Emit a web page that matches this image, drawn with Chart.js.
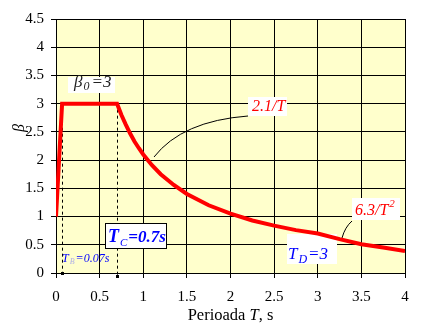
<!DOCTYPE html>
<html>
<head>
<meta charset="utf-8">
<script src="https://cdn.jsdelivr.net/npm/chart.js@4/dist/chart.umd.min.js"></script>
<style>
  html, body { margin: 0; padding: 0; background: #fff; }
  #wrap { width: 436px; height: 335px; }
</style>
</head>
<body>
<div id="wrap"><canvas id="chart"></canvas></div>
<script>
// Periods T (s) and spectral factor beta
const periods = [0, 0.07, 0.7, 0.75, 0.8, 0.85, 0.9, 0.95, 1.0, 1.1, 1.2, 1.35, 1.5, 1.75, 2.0, 2.25, 2.5, 2.75, 3.0, 3.25, 3.5, 3.75, 4.0];
const beta    = [1.0, 3.0, 3.0, 2.8, 2.63, 2.47, 2.33, 2.21, 2.1, 1.91, 1.75, 1.56, 1.4, 1.2, 1.05, 0.93, 0.84, 0.76, 0.7, 0.6, 0.51, 0.45, 0.39];

const xTicks = [0, 0.5, 1, 1.5, 2, 2.5, 3, 3.5, 4];
const yTicks = [0, 0.5, 1, 1.5, 2, 2.5, 3, 3.5, 4, 4.5];

// corner periods marked with dashed lines
const TB = 0.07;
const TC = 0.7;
const betaMax = 3;

const SERIF = '"Liberation Serif", "Times New Roman", serif';
Chart.defaults.font.family = SERIF;
Chart.defaults.color = '#000';

// draw a run of text pieces one after another
function drawRuns(ctx, x, y, runs) {
  let cx = x;
  runs.forEach(r => {
    ctx.font = r.font;
    ctx.fillStyle = r.color;
    ctx.fillText(r.text, cx, y + (r.dy || 0));
    cx += ctx.measureText(r.text).width + (r.gap || 0);
  });
}

const decor = {
  id: 'decor',
  beforeDraw(chart) {
    const { ctx, chartArea: a } = chart;
    ctx.save();
    ctx.fillStyle = '#FFFFCC';
    ctx.fillRect(a.left, a.top, a.right - a.left, a.bottom - a.top);
    ctx.restore();
  },
  beforeDatasetsDraw(chart) {
    const { ctx } = chart;
    const xs = chart.scales.x, ys = chart.scales.y;
    ctx.save();

    // white patches behind the labels
    ctx.fillStyle = '#FFFFFF';
    ctx.fillRect(68, 77, 47, 16);    // beta0
    ctx.fillRect(248, 97, 39, 19);   // 2.1/T
    ctx.fillRect(352, 198, 48, 22);  // 6.3/T^2
    ctx.fillRect(287, 234, 50, 30);  // TD

    // dashed corner lines
    ctx.strokeStyle = '#000';
    ctx.lineWidth = 1;
    ctx.setLineDash([3, 3]);
    const yTop = ys.getPixelForValue(betaMax);
    const y0 = ys.getPixelForValue(0);
    [[TB, y0], [TC, y0 + 3]].forEach(([t, yb]) => {
      const px = Math.round(xs.getPixelForValue(t)) + 0.5;
      ctx.beginPath();
      ctx.moveTo(px, yTop);
      ctx.lineTo(px, yb);
      ctx.stroke();
    });
    ctx.setLineDash([]);
    ctx.fillStyle = '#000';
    ctx.fillRect(Math.round(xs.getPixelForValue(TB)) - 1, y0 - 1, 3, 3);
    ctx.fillRect(Math.round(xs.getPixelForValue(TC)) - 1, y0 + 2, 3, 3);

    // leader lines
    ctx.beginPath();
    ctx.moveTo(154, 157);
    ctx.quadraticCurveTo(182, 121, 248, 116);
    ctx.stroke();
    ctx.beginPath();
    ctx.moveTo(342, 238);
    ctx.quadraticCurveTo(345, 227, 352, 221);
    ctx.stroke();

    // TC box
    ctx.fillStyle = '#FFFFFF';
    ctx.fillRect(105, 223, 61, 25);
    ctx.strokeRect(105.5, 223.5, 61, 25);
    ctx.restore();
  },
  afterDatasetsDraw(chart) {
    const { ctx } = chart;
    ctx.save();
    ctx.textBaseline = 'alphabetic';
    ctx.textAlign = 'left';
    const it = (s) => 'italic ' + s + 'px ' + SERIF;
    const bi = (s) => 'italic bold ' + s + 'px ' + SERIF;

    drawRuns(ctx, 74, 87, [
      { text: 'β', font: it(17), color: '#222', gap: 1 },
      { text: '0', font: it(12), color: '#222', dy: 3, gap: 2 },
      { text: '=3', font: it(17), color: '#222' }
    ]);
    drawRuns(ctx, 252, 111, [
      { text: '2.1/T', font: it(16), color: '#FF0000' }
    ]);
    drawRuns(ctx, 355, 215, [
      { text: '6.3/T', font: it(16), color: '#FF0000', gap: 1 },
      { text: '2', font: it(11), color: '#FF0000', dy: -8 }
    ]);
    drawRuns(ctx, 288, 259, [
      { text: 'T', font: it(17), color: '#0000FF', gap: 1 },
      { text: 'D', font: it(12), color: '#0000FF', dy: 4, gap: 1 },
      { text: '=3', font: it(17), color: '#0000FF' }
    ]);
    drawRuns(ctx, 108, 242, [
      { text: 'T', font: bi(18), color: '#0000FF', gap: 1 },
      { text: 'C', font: it(11), color: '#0000FF', dy: 4, gap: 1 },
      { text: '=0.7s', font: bi(17), color: '#0000FF' }
    ]);
    drawRuns(ctx, 62, 262, [
      { text: 'T', font: it(12), color: '#0000FF', gap: 1 },
      { text: 'B', font: it(8), color: '#B0B0E8', dy: 2, gap: 1 },
      { text: '=0.07s', font: it(12), color: '#0000FF' }
    ]);

    // axis titles
    ctx.fillStyle = '#000';
    const xTitle = [
      { text: 'Perioada ', font: '16.5px ' + SERIF, color: '#000' },
      { text: 'T', font: it(16.5), color: '#000' },
      { text: ', s', font: '16.5px ' + SERIF, color: '#000' }
    ];
    let w = 0;
    xTitle.forEach(r => { ctx.font = r.font; w += ctx.measureText(r.text).width; });
    const a = chart.chartArea;
    drawRuns(ctx, (a.left + a.right) / 2 - w / 2, 320, xTitle);

    ctx.translate(24, 128);
    ctx.rotate(-Math.PI / 2);
    ctx.textAlign = 'center';
    ctx.font = it(16);
    ctx.fillText('β', 0, 0);
    ctx.restore();
  }
};

const points = periods.map((t, i) => ({ x: t, y: beta[i] }));
const plainNum = v => String(v);

new Chart(document.getElementById('chart'), {
  type: 'scatter',
  data: {
    datasets: [{
      data: points,
      showLine: true,
      borderColor: '#FF0000',
      borderWidth: 4,
      pointRadius: 0,
      tension: 0,
      fill: false
    }]
  },
  options: {
    responsive: true,
    maintainAspectRatio: false,
    animation: false,
    events: [],
    layout: { padding: { top: 19, right: 31, left: 0, bottom: 0 } },
    plugins: { legend: { display: false }, tooltip: { enabled: false } },
    scales: {
      x: {
        type: 'linear',
        min: 0, max: 4,
        afterBuildTicks: s => { s.ticks = xTicks.map(v => ({ value: v })); },
        afterFit: s => { s.height = 62; },
        grid: { color: '#000', tickColor: '#000', tickLength: 5, lineWidth: 1 },
        border: { color: '#000', width: 1 },
        ticks: { font: { size: 15 }, padding: 10, maxRotation: 0, color: '#000', callback: plainNum }
      },
      y: {
        type: 'linear',
        min: 0, max: 4.5,
        afterBuildTicks: s => { s.ticks = yTicks.map(v => ({ value: v })); },
        afterFit: s => { s.width = 56; },
        grid: { color: '#000', tickColor: '#000', tickLength: 5, lineWidth: 1 },
        border: { color: '#000', width: 1 },
        ticks: { font: { size: 15 }, padding: 7, color: '#000', callback: plainNum }
      }
    }
  },
  plugins: [decor]
});
</script>
</body>
</html>
